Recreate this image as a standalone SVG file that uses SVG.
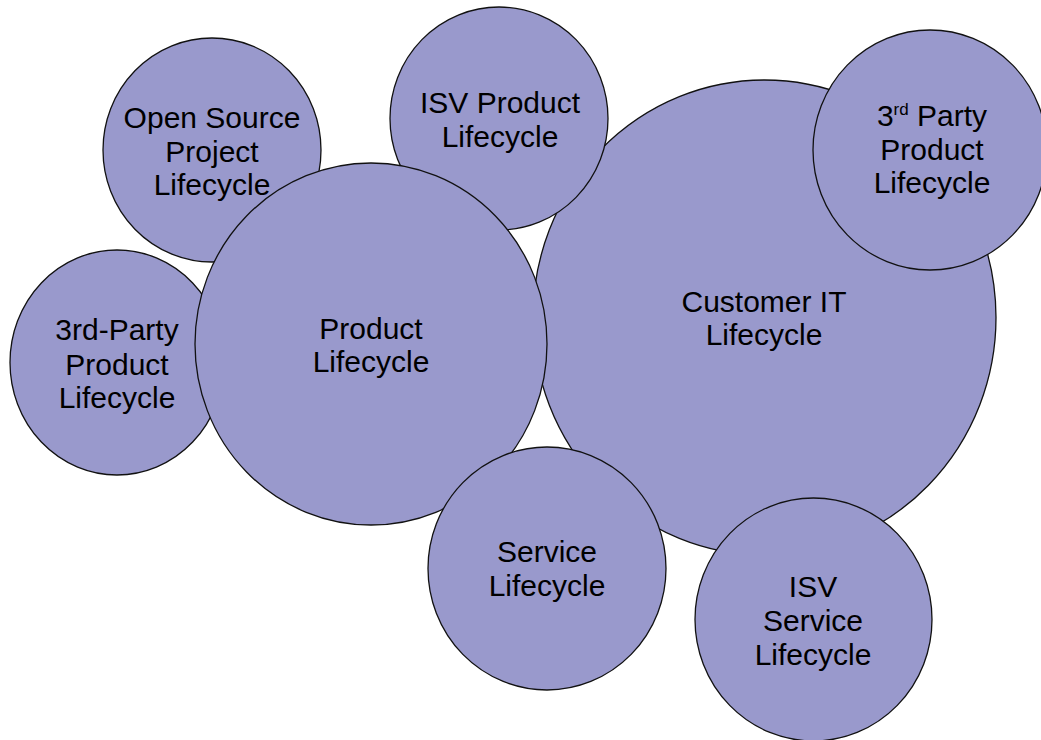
<svg xmlns="http://www.w3.org/2000/svg" width="1041" height="740" viewBox="0 0 1041 740">
  <style>
    .bubble { fill: #9999cc; stroke: #111; stroke-width: 1.3; }
    .label { font-family: "Liberation Sans", Arial, sans-serif; font-size: 30px; fill: #000; text-anchor: middle; }
  </style>
  <rect width="1041" height="740" fill="#fff"/>
  <g id="nodes">
    <g id="customer-it">
      <ellipse class="bubble" cx="764.5" cy="317.5" rx="231.5" ry="237.5"/>
      <text class="label" x="764" y="312">Customer IT</text>
      <text class="label" x="764" y="345">Lifecycle</text>
    </g>
    <g id="isv-product">
      <ellipse class="bubble" cx="499" cy="118.5" rx="109" ry="111.5"/>
      <text class="label" x="500" y="113">ISV Product</text>
      <text class="label" x="500" y="147">Lifecycle</text>
    </g>
    <g id="open-source">
      <ellipse class="bubble" cx="212" cy="150" rx="109" ry="112"/>
      <text class="label" x="212" y="128">Open Source</text>
      <text class="label" x="212" y="162">Project</text>
      <text class="label" x="212" y="195">Lifecycle</text>
    </g>
    <g id="third-party-left">
      <ellipse class="bubble" cx="117" cy="362.5" rx="107" ry="112.5"/>
      <text class="label" x="117" y="340">3rd-Party</text>
      <text class="label" x="117" y="375">Product</text>
      <text class="label" x="117" y="408">Lifecycle</text>
    </g>
    <g id="product">
      <ellipse class="bubble" cx="371" cy="344" rx="176" ry="181"/>
      <text class="label" x="371" y="339">Product</text>
      <text class="label" x="371" y="372">Lifecycle</text>
    </g>
    <g id="service">
      <ellipse class="bubble" cx="547" cy="568.5" rx="119" ry="121.5"/>
      <text class="label" x="547" y="562">Service</text>
      <text class="label" x="547" y="596">Lifecycle</text>
    </g>
    <g id="isv-service">
      <ellipse class="bubble" cx="813.5" cy="619.5" rx="118.5" ry="121.5"/>
      <text class="label" x="813" y="597">ISV</text>
      <text class="label" x="813" y="631">Service</text>
      <text class="label" x="813" y="665">Lifecycle</text>
    </g>
    <g id="third-party-right">
      <ellipse class="bubble" cx="930" cy="150" rx="117" ry="120"/>
      <text class="label" x="932" y="126">3<tspan font-size="17" dy="-11">rd</tspan><tspan dy="11"> Party</tspan></text>
      <text class="label" x="932" y="160">Product</text>
      <text class="label" x="932" y="193">Lifecycle</text>
    </g>
  </g>
  <g id="connectors"/>
</svg>
